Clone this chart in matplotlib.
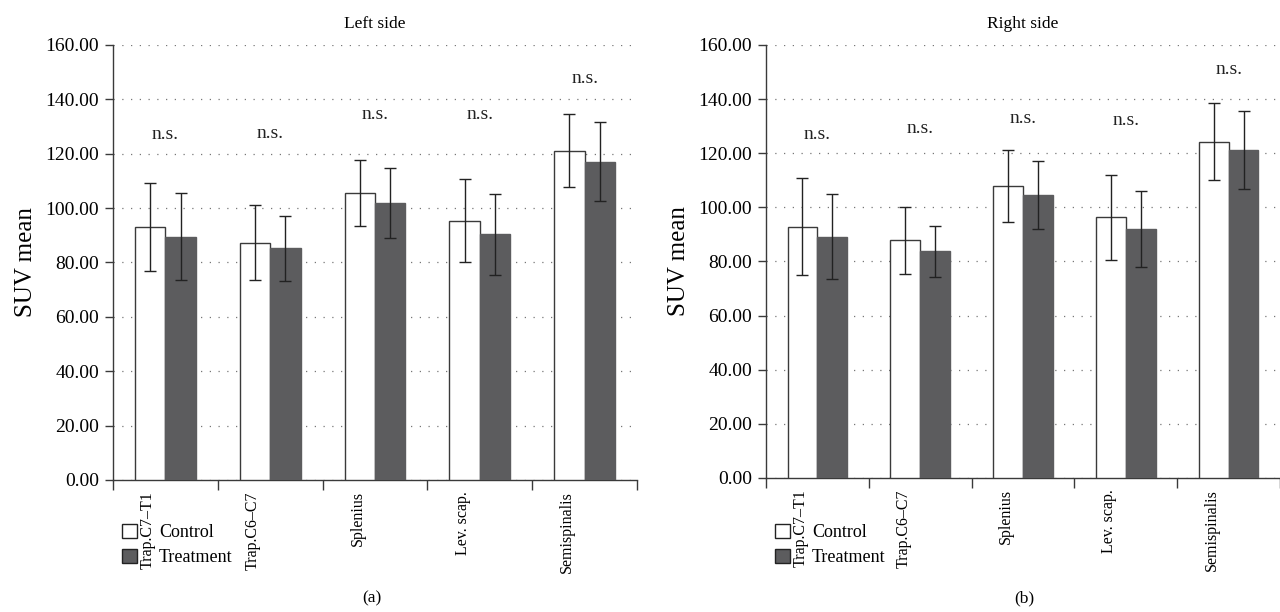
import numpy as np
import matplotlib
matplotlib.use("Agg")
import matplotlib.pyplot as plt
from matplotlib.patches import Patch

plt.rcParams['font.family'] = ['Liberation Serif', 'DejaVu Serif']

muscles = ["Trap.C7–T1", "Trap.C6–C7", "Splenius", "Lev. scap.", "Semispinalis"]

left_control = [92.9, 87.2, 105.6, 95.4, 121.1]
left_control_sd = [16.2, 13.8, 12.1, 15.2, 13.4]
left_treat = [89.5, 85.2, 101.9, 90.3, 117.1]
left_treat_sd = [16.0, 12.0, 13.0, 14.9, 14.5]
left_ns_y = [127, 127.5, 134.5, 134.5, 147.5]

right_control = [92.9, 87.8, 107.9, 96.3, 124.2]
right_control_sd = [17.8, 12.4, 13.4, 15.6, 14.2]
right_treat = [89.2, 83.8, 104.5, 92.0, 121.1]
right_treat_sd = [15.8, 9.4, 12.6, 13.9, 14.4]
right_ns_y = [127, 129, 133, 132, 151]

fig = plt.figure(figsize=(12.8, 6.12), dpi=100)
ax1 = fig.add_axes([0.0883, 0.2157, 0.4094, 0.7108])
ax2 = fig.add_axes([0.5984, 0.2190, 0.4016, 0.7075])

dark = '#5c5c5e'
edge = '#3a3a3a'
w = 0.29

def panel(ax, ctrl, ctrl_sd, trt, trt_sd, ns_y, title):
    x = np.arange(len(muscles))
    ax.bar(x - w/2, ctrl, w, color='white', edgecolor=edge, linewidth=1.0, zorder=3)
    ax.bar(x + w/2, trt, w, color=dark, edgecolor=dark, linewidth=1.0, zorder=3)
    ax.errorbar(x - w/2, ctrl, yerr=ctrl_sd, fmt='none', ecolor='#222222',
                elinewidth=1.0, capsize=4, capthick=1.0, zorder=4)
    ax.errorbar(x + w/2, trt, yerr=trt_sd, fmt='none', ecolor='#222222',
                elinewidth=1.0, capsize=4, capthick=1.0, zorder=4)
    for xi, yi in zip(x, ns_y):
        ax.text(xi, yi, "n.s.", ha='center', va='center', fontsize=14, color='#222222')
    ax.set_xlim(-0.5, len(muscles) - 0.5)
    ax.set_ylim(0, 160)
    ax.set_yticks(np.arange(0, 161, 20))
    ax.set_yticklabels(["%.2f" % v for v in np.arange(0, 161, 20)], fontsize=14)
    # labels sit a little left of the group centre, like the original
    ax.set_xticks(x - 0.165)
    ax.set_xticklabels(muscles, rotation=90, fontsize=11.5, va='top')
    ax.set_xticks(np.arange(-0.5, len(muscles)), minor=True)
    ax.tick_params(axis='x', which='major', length=0, pad=8)
    ax.tick_params(axis='x', which='minor', length=7, direction='out', width=1.0, color=edge)
    ax.tick_params(axis='y', length=6, direction='out', width=1.0, color=edge, pad=4)
    for s in ['top', 'right']:
        ax.spines[s].set_visible(False)
    for s in ['left', 'bottom']:
        ax.spines[s].set_color(edge)
        ax.spines[s].set_linewidth(1.0)
    ax.yaxis.grid(True, linestyle=(0, (1, 6)), color='#777777', linewidth=0.9)
    ax.set_axisbelow(True)
    ax.set_ylabel("SUV mean", fontsize=18, labelpad=6)
    ax.set_title(title, fontsize=12.5, pad=12)

panel(ax1, left_control, left_control_sd, left_treat, left_treat_sd, left_ns_y, "Left side")
panel(ax2, right_control, right_control_sd, right_treat, right_treat_sd, right_ns_y, "Right side")

handles = [Patch(facecolor='white', edgecolor='#222222', linewidth=1.0, label='Control'),
           Patch(facecolor=dark, edgecolor='#222222', linewidth=1.0, label='Treatment')]
for xa in [122/1280, 775/1280]:
    fig.legend(handles=handles, loc='upper left', bbox_to_anchor=(xa, 1 - 524/612),
               frameon=False, fontsize=13, handlelength=0.85, handleheight=0.85,
               labelspacing=0.4, handletextpad=1.2, borderaxespad=0, borderpad=0)

fig.text(372/1280, 1 - 598/612, "(a)", ha='center', va='center', fontsize=12.5)
fig.text(1024/1280, 1 - 598/612, "(b)", ha='center', va='center', fontsize=12.5)

fig.savefig("out.png", dpi=100)
